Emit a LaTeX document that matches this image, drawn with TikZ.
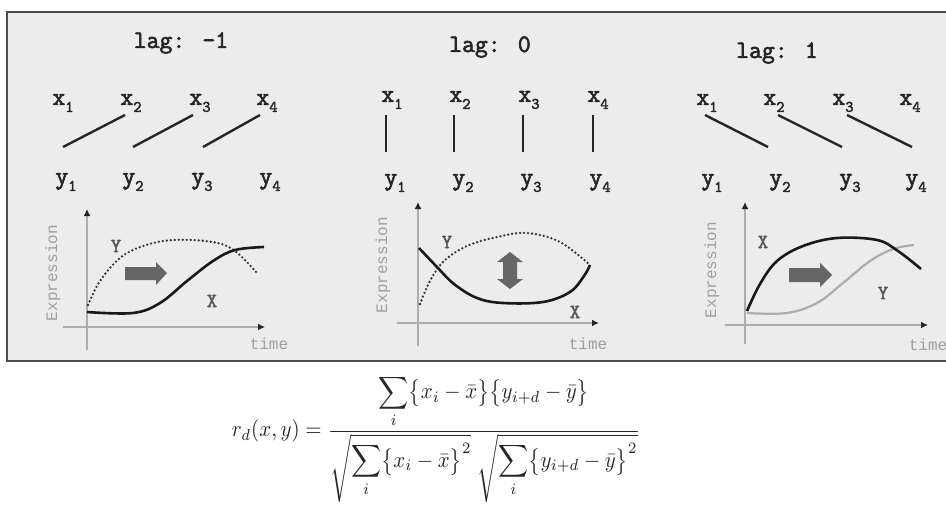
\documentclass[tikz,border=0pt]{standalone}
\usepackage{fontspec}
\usepackage{graphicx}
\usetikzlibrary{arrows.meta}
\newfontfamily\mono{Liberation Mono}
\newfontfamily\courb[FakeBold=2.5]{Latin Modern Mono}
\newcommand\mysub[1]{\raisebox{-0.28em}{\fontsize{16}{16}\selectfont #1}}
\begin{document}
\begin{tikzpicture}[x=1pt,y=-1pt,
  lbl/.style={font=\courb\fontsize{25}{27}\selectfont, text=black!85, inner sep=1pt},
  ttl/.style={font=\courb\fontsize{25}{27}\selectfont, text=black!85, inner sep=1pt},
  link/.style={line width=2.4pt, black!85},
  axis/.style={line width=2.4pt, gray!65, -{Latex[length=7pt,width=7pt,color=black!85]}},
  axlbl/.style={font=\mono\fontsize{16}{18}\selectfont, text=gray!75, inner sep=0pt},
  crvlbl/.style={font=\courb\fontsize{20}{22}\selectfont, text=gray!70!black, inner sep=0pt},
  xcurve/.style={line width=2.6pt, black!90},
  ycurve/.style={line width=2.6pt, black!80, line cap=round, dash pattern=on 0pt off 4pt},
  ycurvegray/.style={line width=2.2pt, gray!65},
  fatarrow/.style={fill=black!60, draw=none}
]
\useasboundingbox (0,0) rectangle (946,504);
\clip (0,0) rectangle (946,504);
\fill[white] (0,0) rectangle (946,504);

% framed gray panel
\draw[line width=2.6pt, black!70, fill=gray!15] (7,12) rectangle (970,361);

% ---------- panel 1: lag -1 ----------
\node[ttl] (t1) at (181,43) {lag: -1};
\node[lbl] (a1) at (63,103) {x\mysub{1}};
\node[lbl] (a2) at (131,103) {x\mysub{2}};
\node[lbl] (a3) at (200,103) {x\mysub{3}};
\node[lbl] (a4) at (267,103) {x\mysub{4}};
\node[lbl] (b1) at (66,182) {y\mysub{1}};
\node[lbl] (b2) at (133,182) {y\mysub{2}};
\node[lbl] (b3) at (202,182) {y\mysub{3}};
\node[lbl] (b4) at (270,182) {y\mysub{4}};
\draw[link] ([shift={(-3,-35)}]b1.center) -- ([shift={(-6,12)}]a2.center);
\draw[link] ([shift={(0,-35)}]b2.center) -- ([shift={(-7,12)}]a3.center);
\draw[link] ([shift={(1,-35)}]b3.center) -- ([shift={(-7,12)}]a4.center);

\draw[axis] (87,350) -- (87,209);
\draw[axis] (63,327) -- (265,327);
\node[axlbl, rotate=90] (e1) at (53,273) {Expression};
\node[axlbl] (m1) at (269,344) {time};
\draw[ycurve] plot[smooth, tension=0.6] coordinates {(88,305) (100,281) (120,258) (143,246) (173,240) (213,242) (235,251) (257,273)};
\draw[xcurve] plot[smooth, tension=0.6] coordinates {(87,312) (133,313) (160,303) (187,281) (213,261) (235,250) (264,247)};
\node[crvlbl] (cy1) at (116,246) {Y};
\node[crvlbl] (cx1) at (212,301) {X};
\fill[fatarrow] (125,267) -- (156,267) -- (156,262) -- (167,273) -- (156,285) -- (156,280) -- (125,280) -- cycle;

% ---------- panel 2: lag 0 ----------
\node[ttl] (t2) at (490,47) {lag: 0};
\node[lbl] (c1) at (392,100) {x\mysub{1}};
\node[lbl] (c2) at (460,100) {x\mysub{2}};
\node[lbl] (c3) at (529,100) {x\mysub{3}};
\node[lbl] (c4) at (598,100) {x\mysub{4}};
\node[lbl] (d1) at (395,183) {y\mysub{1}};
\node[lbl] (d2) at (463,183) {y\mysub{2}};
\node[lbl] (d3) at (531,183) {y\mysub{3}};
\node[lbl] (d4) at (600,183) {y\mysub{4}};
\draw[link] ([shift={(-6,15)}]c1.center) -- ([shift={(-9,-31)}]d1.center);
\draw[link] ([shift={(-6,15)}]c2.center) -- ([shift={(-9,-31)}]d2.center);
\draw[link] ([shift={(-6,15)}]c3.center) -- ([shift={(-8,-31)}]d3.center);
\draw[link] ([shift={(-5,15)}]c4.center) -- ([shift={(-7,-31)}]d4.center);

\draw[axis] (418,346) -- (418,202);
\draw[axis] (397,323) -- (599,323);
\node[axlbl, rotate=90] (e2) at (383,265) {Expression};
\node[axlbl] (m2) at (588,344) {time};
\draw[ycurve] plot[smooth, tension=0.6] coordinates {(420,304) (430,281) (444,261) (467,246) (497,237) (527,233) (560,242) (590,265)};
\draw[xcurve] plot[smooth, tension=0.6] coordinates {(419,248) (437,267) (454,284) (477,298) (503,303) (543,302) (570,292) (584,276) (590,265)};
\node[crvlbl] (cy2) at (447,242) {Y};
\node[crvlbl] (cx2) at (575,312) {X};
\fill[fatarrow] (510,252) -- (523,262) -- (517,262) -- (517,279) -- (523,279) -- (510,289) -- (497,279) -- (503,279) -- (503,262) -- (497,262) -- cycle;

% ---------- panel 3: lag 1 ----------
\node[ttl] (t3) at (777,53) {lag: 1};
\node[lbl] (g1) at (707,103) {x\mysub{1}};
\node[lbl] (g2) at (774,103) {x\mysub{2}};
\node[lbl] (g3) at (843,103) {x\mysub{3}};
\node[lbl] (g4) at (910,103) {x\mysub{4}};
\node[lbl] (h1) at (712,183) {y\mysub{1}};
\node[lbl] (h2) at (780,183) {y\mysub{2}};
\node[lbl] (h3) at (850,183) {y\mysub{3}};
\node[lbl] (h4) at (916,183) {y\mysub{4}};
\draw[link] ([shift={(-2,12)}]g1.center) -- ([shift={(-12,-36)}]h2.center);
\draw[link] ([shift={(4,12)}]g2.center) -- ([shift={(-8,-36)}]h3.center);
\draw[link] ([shift={(4,12)}]g3.center) -- ([shift={(-4,-36)}]h4.center);

\draw[axis] (745,344) -- (745,202);
\draw[axis] (725,325) -- (928,325);
\node[axlbl, rotate=90] (e3) at (712,270) {Expression};
\node[axlbl] (m3) at (928,345) {time};
\draw[ycurvegray] plot[smooth, tension=0.6] coordinates {(747,313) (787,313) (817,303) (843,283) (870,261) (893,249) (914,245)};
\draw[xcurve] plot[smooth, tension=0.6] coordinates {(747,311) (760,284) (777,261) (803,246) (837,238) (877,240) (898,251) (921,269)};
\node[crvlbl] (cx3) at (763,242) {X};
\node[crvlbl] (cy3) at (883,293) {Y};
\fill[fatarrow] (789,268) -- (820,268) -- (820,263) -- (832,275) -- (820,287) -- (820,282) -- (789,282) -- cycle;

% ---------- formula ----------
\node[inner sep=0pt, text=black!85] (f) at (436,439) {\resizebox*{408pt}{128pt}{$\displaystyle r_d(x,y)=\frac{\displaystyle\sum_i\bigl\{x_i-\bar{x}\bigr\}\bigl\{y_{i+d}-\bar{y}\bigr\}}{\sqrt{\displaystyle\sum_i\bigl\{x_i-\bar{x}\bigr\}^2}\;\sqrt{\displaystyle\sum_i\bigl\{y_{i+d}-\bar{y}\bigr\}^2}}$}};
\end{tikzpicture}
\end{document}
